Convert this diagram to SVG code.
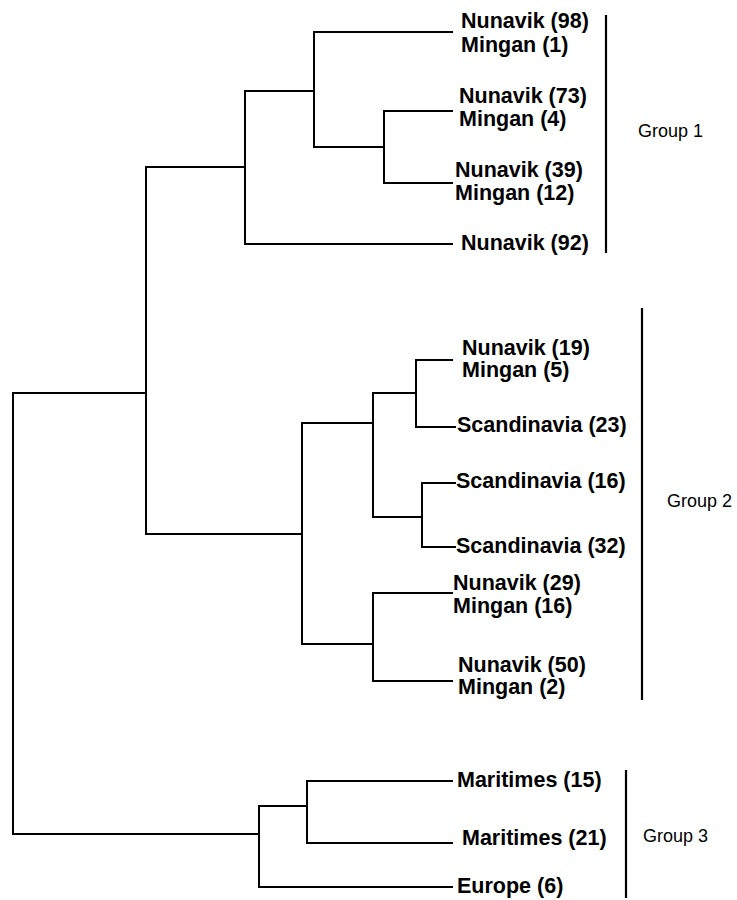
<svg xmlns="http://www.w3.org/2000/svg" width="737" height="900" viewBox="0 0 737 900">
<style>
.br{fill:none;stroke:#000;stroke-width:2;stroke-linecap:square}
.bar{stroke:#000;stroke-width:2.2}
.lb{font-family:"Liberation Sans",Arial,sans-serif;font-weight:bold;font-size:21.5px;fill:#000}
.gp{font-family:"Liberation Sans",Arial,sans-serif;font-size:18px;fill:#000}
</style>
<rect width="737" height="900" fill="#fff"/>
<g id="connectors">
<path class="br" d="M13,834 V393 H146"/>
<path class="br" d="M13,834 H259"/>
<path class="br" d="M146,167 V534 H302"/>
<path class="br" d="M146,167 H245"/>
<path class="br" d="M245,91 V244 H452"/>
<path class="br" d="M245,91 H314"/>
<path class="br" d="M314,32 V147 H384"/>
<path class="br" d="M314,32 H452"/>
<path class="br" d="M384,111 V183 H452"/>
<path class="br" d="M384,111 H452"/>
<path class="br" d="M302,423 V644 H373"/>
<path class="br" d="M302,423 H373"/>
<path class="br" d="M373,393 V517 H422"/>
<path class="br" d="M373,393 H416"/>
<path class="br" d="M416,360 V427 H455"/>
<path class="br" d="M416,360 H452"/>
<path class="br" d="M422,483 V547 H455"/>
<path class="br" d="M422,483 H455"/>
<path class="br" d="M373,593 V681 H452"/>
<path class="br" d="M373,593 H452"/>
<path class="br" d="M259,806 V887 H452"/>
<path class="br" d="M259,806 H307"/>
<path class="br" d="M307,781 V843 H452"/>
<path class="br" d="M307,781 H452"/>
</g>
<g id="leaf-nunavik98"><text class="lb" x="461" y="28">Nunavik (98)</text><text class="lb" x="461" y="52">Mingan (1)</text></g>
<g id="leaf-nunavik73"><text class="lb" x="459" y="103">Nunavik (73)</text><text class="lb" x="459" y="126">Mingan (4)</text></g>
<g id="leaf-nunavik39"><text class="lb" x="455" y="177">Nunavik (39)</text><text class="lb" x="455" y="200">Mingan (12)</text></g>
<g id="leaf-nunavik92"><text class="lb" x="461" y="250">Nunavik (92)</text></g>
<g id="leaf-nunavik19"><text class="lb" x="462" y="355">Nunavik (19)</text><text class="lb" x="462" y="377">Mingan (5)</text></g>
<g id="leaf-scand23"><text class="lb" x="457" y="432">Scandinavia (23)</text></g>
<g id="leaf-scand16"><text class="lb" x="456" y="488">Scandinavia (16)</text></g>
<g id="leaf-scand32"><text class="lb" x="456" y="553">Scandinavia (32)</text></g>
<g id="leaf-nunavik29"><text class="lb" x="453" y="590">Nunavik (29)</text><text class="lb" x="453" y="613">Mingan (16)</text></g>
<g id="leaf-nunavik50"><text class="lb" x="458" y="672">Nunavik (50)</text><text class="lb" x="458" y="694">Mingan (2)</text></g>
<g id="leaf-maritimes15"><text class="lb" x="457" y="787">Maritimes (15)</text></g>
<g id="leaf-maritimes21"><text class="lb" x="462" y="845">Maritimes (21)</text></g>
<g id="leaf-europe6"><text class="lb" x="457" y="893">Europe (6)</text></g>
<g id="group1"><line class="bar" x1="606" y1="15" x2="606" y2="253"/><text class="gp" x="638" y="137">Group 1</text></g>
<g id="group2"><line class="bar" x1="642" y1="308" x2="642" y2="700"/><text class="gp" x="667" y="507">Group 2</text></g>
<g id="group3"><line class="bar" x1="626" y1="770" x2="626" y2="898"/><text class="gp" x="643" y="842">Group 3</text></g>
</svg>
